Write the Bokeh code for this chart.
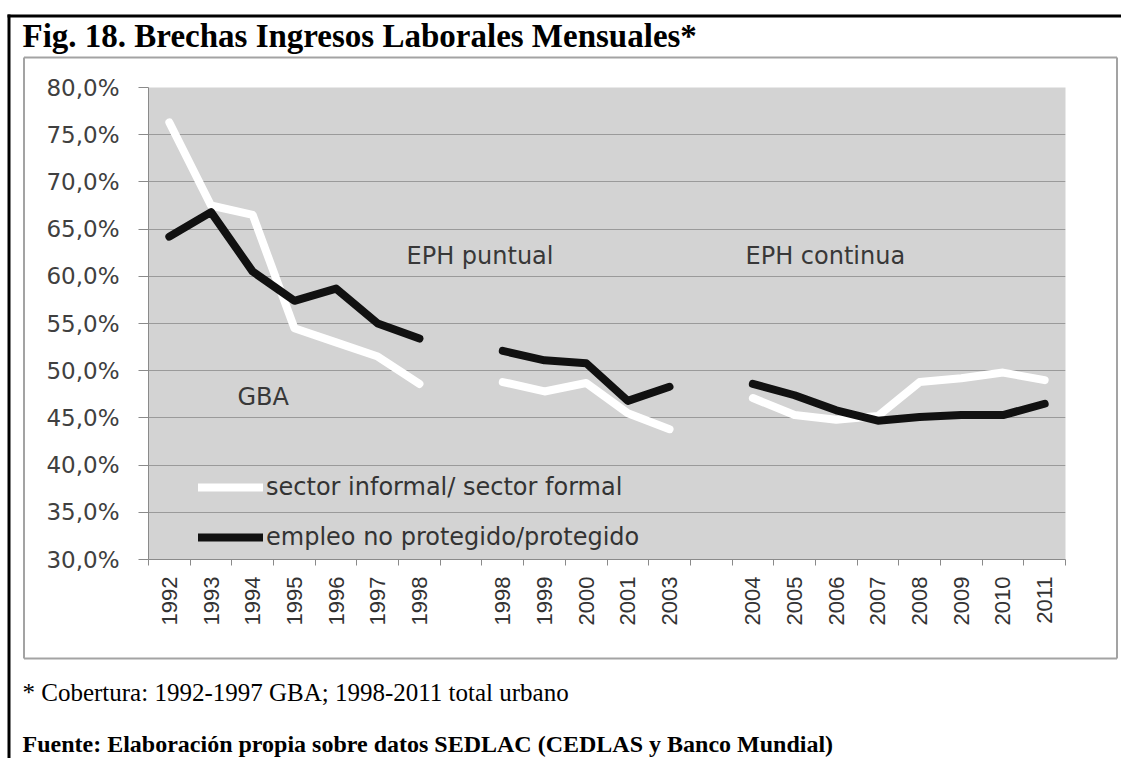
import math
from bokeh.plotting import figure
from bokeh.models import Range1d, FixedTicker, Label, Legend, LegendItem
from bokeh.core.properties import value
from bokeh.embed import file_html
from bokeh.resources import INLINE

# ---------------- data ----------------
categories = ["1992", "1993", "1994", "1995", "1996", "1997", "1998", "",
              "1998", "1999", "2000", "2001", "2003", "",
              "2004", "2005", "2006", "2007", "2008", "2009", "2010", "2011"]
informal_formal = [76.3, 67.5, 66.5, 54.5, 53.0, 51.5, 48.6, None,
                   48.8, 47.8, 48.7, 45.5, 43.8, None,
                   47.1, 45.3, 44.8, 45.2, 48.8, 49.2, 49.8, 49.0]
no_protegido = [64.2, 66.8, 60.5, 57.4, 58.7, 55.0, 53.4, None,
                52.1, 51.1, 50.8, 46.8, 48.3, None,
                48.6, 47.4, 45.8, 44.7, 45.1, 45.3, 45.3, 46.5]
series_names = ["sector informal/ sector formal", "empleo no protegido/protegido"]
y_ticks = [30, 35, 40, 45, 50, 55, 60, 65, 70, 75, 80]
y_tick_labels = ["30,0%", "35,0%", "40,0%", "45,0%", "50,0%", "55,0%",
                 "60,0%", "65,0%", "70,0%", "75,0%", "80,0%"]
notes = ["EPH puntual", "EPH continua", "GBA"]
title_text = "Fig. 18. Brechas Ingresos Laborales Mensuales*"
footnote_text = "* Cobertura: 1992-1997 GBA; 1998-2011 total urbano"
source_text = "Fuente: Elaboración propia sobre datos SEDLAC (CEDLAS y Banco Mundial)"

# ---------------- layout (canvas pixels) ----------------
W, H = 1121, 758
FL, FR, FT, FB = 148, 56, 87, 199
FW, FH = W - FL - FR, H - FT - FB
n = len(categories)
XMIN, XMAX = 0, n
YMIN, YMAX = y_ticks[0], y_ticks[-1]


def dx(cx):
    return XMIN + (cx - FL) / FW * (XMAX - XMIN)


def dy(cy):
    return YMIN + (FT + FH - cy) / FH * (YMAX - YMIN)


xs = [i + 0.5 for i in range(n)]
nan = float("nan")
v1 = [nan if v is None else v for v in informal_formal]
v2 = [nan if v is None else v for v in no_protegido]

p = figure(width=W, height=H, x_range=Range1d(XMIN, XMAX), y_range=Range1d(YMIN, YMAX),
           output_backend="svg", toolbar_location=None,
           min_border_left=FL, min_border_right=FR, min_border_top=FT, min_border_bottom=FB)
p.background_fill_color = "#d3d3d3"
p.border_fill_color = "white"
p.outline_line_color = None

p.xgrid.visible = False
p.ygrid.ticker = FixedTicker(ticks=y_ticks)
p.ygrid.grid_line_color = "#9a9a9a"
p.ygrid.grid_line_width = 1

AX = "#8a8a8a"
# y axis
p.yaxis.ticker = FixedTicker(ticks=y_ticks)
p.yaxis.major_label_overrides = dict(zip(y_ticks, y_tick_labels))
p.yaxis.major_tick_out = 10
p.yaxis.major_tick_in = 0
p.yaxis.minor_tick_out = 0
p.yaxis.minor_tick_in = 0
p.yaxis.major_tick_line_color = AX
p.yaxis.axis_line_color = AX
p.yaxis.major_label_standoff = 19
p.yaxis.major_label_text_font = "DejaVu Sans"
p.yaxis.major_label_text_font_size = "23px"
p.yaxis.major_label_text_color = "#404040"

# x axis: labels at category centres, tick marks at category boundaries
centres = [xs[i] for i, c in enumerate(categories) if c]
p.xaxis.ticker = FixedTicker(ticks=centres, minor_ticks=list(range(n + 1)))
p.xaxis.major_label_overrides = {xs[i]: c for i, c in enumerate(categories) if c}
p.xaxis.major_label_orientation = math.pi / 2
p.xaxis.major_tick_out = 0
p.xaxis.major_tick_in = 0
p.xaxis.minor_tick_out = 6
p.xaxis.minor_tick_in = 0
p.xaxis.minor_tick_line_color = AX
p.xaxis.axis_line_color = AX
p.xaxis.major_label_standoff = 11
p.xaxis.major_label_text_font = "Liberation Sans"
p.xaxis.major_label_text_font_size = "22px"
p.xaxis.major_label_text_color = "#333333"

r1 = p.line(xs, v1, line_color="white", line_width=8, line_cap="round", line_join="round")
r2 = p.line(xs, v2, line_color="#111111", line_width=8, line_cap="round", line_join="round")

legend = Legend(items=[LegendItem(label=series_names[0], renderers=[r1]),
                       LegendItem(label=series_names[1], renderers=[r2])],
                location=(50, 8), orientation="vertical",
                background_fill_alpha=0, border_line_color=None, padding=0, margin=0,
                glyph_width=65, glyph_height=28, label_height=28, spacing=22,
                label_standoff=3, label_text_font="DejaVu Sans",
                label_text_font_size="24px", label_text_color="#333333")
p.add_layout(legend, "center")

note_pos = [(406, 255), (745, 255), (237, 396)]
for t, (cx, cy) in zip(notes, note_pos):
    p.add_layout(Label(x=dx(cx), y=dy(cy), text=t, text_font="DejaVu Sans",
                       text_font_size="24px", text_color="#383838",
                       text_baseline="alphabetic", text_align="left"))

# chart box and outer frame (drawn above the frame clip, on the overlay level)
box_x = [dx(23.5), dx(1116.5), dx(1116.5), dx(23.5)]
box_y = [dy(57), dy(57), dy(658), dy(658)]
p.segment(x0=box_x, y0=box_y, x1=box_x[1:] + box_x[:1], y1=box_y[1:] + box_y[:1],
          line_color="#a3a3a3", line_width=2, level="overlay")
p.segment(x0=[dx(7), dx(8.5)], y0=[dy(15.5), dy(14)], x1=[dx(1130), dx(8.5)],
          y1=[dy(15.5), dy(770)], line_color="black", line_width=3, level="overlay")

texts = [(title_text, 22, 35, "33px", "bold"),
         (footnote_text, 22, 692, "25px", "normal"),
         (source_text, 22, 743, "24px", "bold")]
for t, cx, cy, fs, st in texts:
    p.text(x=[dx(cx)], y=[dy(cy)], text=[t], text_font=value("Liberation Serif"),
           text_font_size=fs, text_font_style=st, text_color="black",
           text_baseline="alphabetic", text_align="left", level="overlay")

open("out.html", "w").write(file_html(p, INLINE))
